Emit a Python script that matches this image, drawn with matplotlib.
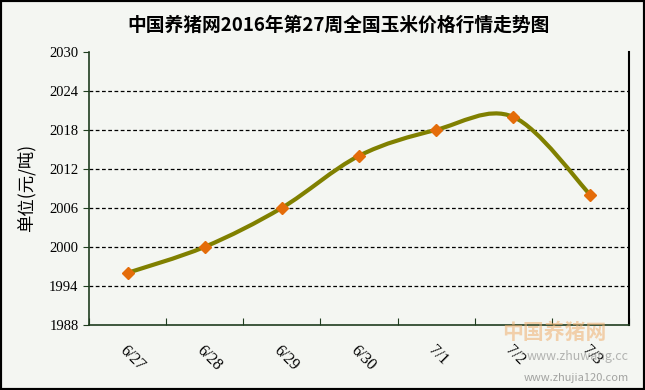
import matplotlib
matplotlib.use("Agg")
import matplotlib.pyplot as plt
from matplotlib.path import Path
from matplotlib.patches import PathPatch, Rectangle
import numpy as np

plt.rcParams['font.family'] = ['Noto Sans CJK SC', 'DejaVu Sans']

# data
dates = ["6/27", "6/28", "6/29", "6/30", "7/1", "7/2", "7/3"]
prices = [1996, 2000, 2006, 2014, 2018, 2020, 2008]
yticks = [1988, 1994, 2000, 2006, 2012, 2018, 2024, 2030]

bg = '#f4f6f2'
fig = plt.figure(figsize=(6.45, 3.9), dpi=100, facecolor=bg)
ax = fig.add_axes([0.138, 0.167, 0.837, 0.700], facecolor=bg)

x = np.arange(len(dates))
y = np.array(prices, dtype=float)

# smoothed line (catmull-rom as bezier segments, like excel smoothing)
verts = [(x[0], y[0])]
codes = [Path.MOVETO]
n = len(x)
for i in range(n - 1):
    p0 = (x[max(i - 1, 0)], y[max(i - 1, 0)])
    p1 = (x[i], y[i])
    p2 = (x[i + 1], y[i + 1])
    p3 = (x[min(i + 2, n - 1)], y[min(i + 2, n - 1)])
    c1 = (p1[0] + (p2[0] - p0[0]) / 6, p1[1] + (p2[1] - p0[1]) / 6)
    c2 = (p2[0] - (p3[0] - p1[0]) / 6, p2[1] - (p3[1] - p1[1]) / 6)
    verts += [c1, c2, p2]
    codes += [Path.CURVE4] * 3
ax.add_patch(PathPatch(Path(verts, codes), facecolor='none',
                       edgecolor='#808000', lw=3, zorder=3))
ax.plot(x, y, ls='none', marker='D', ms=6.5, color='#e46c0a', zorder=4)

ax.set_xlim(-0.5, n - 0.5)
ax.set_ylim(1988, 2030)
ax.set_yticks(yticks)
ax.set_yticklabels([str(v) for v in yticks], family='Liberation Serif', fontsize=10.5)
ax.set_xticks(np.arange(n + 1) - 0.5, minor=False)
ax.set_xticklabels([])
ax.set_xticks(x, minor=True)
ax.set_xticklabels(dates, minor=True, rotation=-45, family='Liberation Serif',
                   fontsize=11.5, ha='left', va='top', rotation_mode='anchor')
ax.tick_params(axis='x', which='minor', length=0, pad=13)
ax.tick_params(axis='x', which='major', length=5, direction='in', color='#1f3d1f')
ax.tick_params(axis='y', length=4, direction='out', color='#1f3d1f')
for yt in yticks[1:-1]:
    ax.axhline(yt, color='black', lw=0.9, ls=(0, (3, 2)), zorder=1)
for side in ['left', 'bottom']:
    ax.spines[side].set_color('#1f3d1f')
    ax.spines[side].set_linewidth(1.2)
ax.spines['top'].set_visible(False)
ax.spines['right'].set_color('black')
ax.spines['right'].set_linewidth(1.5)

ax.set_ylabel("单位(元/吨)", fontsize=12.5, labelpad=10)
fig.text(0.525, 0.935, "中国养猪网2016年第27周全国玉米价格行情走势图",
         ha='center', va='center', fontsize=13.5, fontweight='bold')

# watermark
fig.text(0.94, 0.147, "中国养猪网", ha='right', va='center', fontsize=15,
         fontweight='bold', color='#f0b070', alpha=0.55)
fig.text(0.975, 0.085, "www.zhuwang.cc", ha='right', va='center', fontsize=9,
         color='#707070', alpha=0.5)
fig.text(0.975, 0.03, "www.zhujia120.com", ha='right', va='center', fontsize=8,
         color='#505050', alpha=0.5)

fig.add_artist(Rectangle((0, 0), 1, 1, transform=fig.transFigure, fill=False,
                         edgecolor='black', lw=3))
fig.savefig("out.png", dpi=100, facecolor=bg)
